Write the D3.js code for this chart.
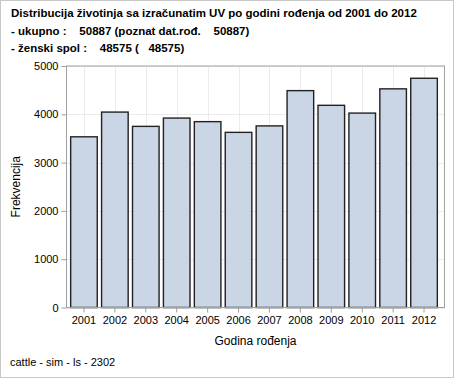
<!DOCTYPE html>
<html>
<head>
<meta charset="utf-8">
<script src="https://cdn.jsdelivr.net/npm/d3@7"></script>
<style>
  body { margin: 0; background: #fff; }
  text { font-family: "Liberation Sans", Arial, sans-serif; }
</style>
</head>
<body>
<div id="chart"></div>
<script>
// data
var years = ["2001", "2002", "2003", "2004", "2005", "2006", "2007", "2008", "2009", "2010", "2011", "2012"];
var counts = [3534, 4046, 3750, 3922, 3848, 3626, 3760, 4490, 4186, 4025, 4527, 4746];
var yTicks = [0, 1000, 2000, 3000, 4000, 5000];
var titleLines = [
  "Distribucija životinja sa izračunatim UV po godini rođenja od 2001 do 2012",
  "- ukupno :    50887 (poznat dat.rođ.    50887)",
  "- ženski spol :    48575 (   48575)"
];
var xLabel = "Godina rođenja";
var yLabel = "Frekvencija";
var footer = "cattle - sim - ls - 2302";

var width = 454, height = 378;
var plot = {left: 66.5, right: 444.5, top: 66, bottom: 307.5};

var svg = d3.select("#chart").append("svg")
    .attr("width", width)
    .attr("height", height);

// outer border
svg.append("rect")
  .attr("x", 0.5).attr("y", 0.5)
  .attr("width", width - 1).attr("height", height - 1)
  .style("fill", "#fff")
  .style("stroke", "#c8c8c8");

// title block
svg.selectAll(".title")
  .data(titleLines)
 .enter()
  .append("text")
  .attr("class", "title")
  .attr("x", 11)
  .attr("y", function(d, i) { return 17 + i * 17.5; })
  .text(function(d) { return d; })
  .style("font-size", "11.5px")
  .style("font-weight", "bold")
  .style("fill", "#000")
  .style("white-space", "pre")
  .attr("xml:space", "preserve");

var xScale = d3.scaleBand()
  .domain(years)
  .range([plot.left + 2, plot.right - 5])
  .paddingInner(0.14)
  .paddingOuter(0.07);

var yScale = d3.scaleLinear()
  .domain([0, 5000])
  .range([plot.bottom, plot.top]);

// gridlines
svg.selectAll(".hgrid")
  .data(yTicks)
 .enter()
  .append("line")
  .attr("class", "hgrid")
  .attr("x1", plot.left).attr("x2", plot.right)
  .attr("y1", function(d) { return Math.round(yScale(d)) + 0.5; })
  .attr("y2", function(d) { return Math.round(yScale(d)) + 0.5; })
  .style("stroke", "#ebebeb");

svg.selectAll(".vgrid")
  .data(years)
 .enter()
  .append("line")
  .attr("class", "vgrid")
  .attr("x1", function(d) { return Math.round(xScale(d) + xScale.bandwidth() / 2) + 0.5; })
  .attr("x2", function(d) { return Math.round(xScale(d) + xScale.bandwidth() / 2) + 0.5; })
  .attr("y1", plot.top).attr("y2", plot.bottom)
  .style("stroke", "#ebebeb");

// bars
svg.selectAll(".bar")
  .data(counts)
 .enter()
  .append("rect")
  .attr("class", "bar")
  .attr("x", function(d, i) { return xScale(years[i]); })
  .attr("y", function(d) { return yScale(d); })
  .attr("width", xScale.bandwidth())
  .attr("height", function(d) { return yScale(0) - yScale(d); })
  .style("fill", "#cad5e5")
  .style("stroke", "#222")
  .style("stroke-width", 1.4);

// plot frame
svg.append("rect")
  .attr("x", plot.left).attr("y", plot.top)
  .attr("width", plot.right - plot.left)
  .attr("height", plot.bottom - plot.top)
  .style("fill", "none")
  .style("stroke", "#a0a0a0");

// axes
var yAxis = d3.axisLeft(yScale)
  .tickValues(yTicks)
  .tickFormat(d3.format("d"))
  .tickSize(5)
  .tickPadding(3);

svg.append("g")
  .attr("class", "y axis")
  .attr("transform", "translate(" + plot.left + ",0)")
  .call(yAxis);

var xAxis = d3.axisBottom(xScale)
  .tickSize(5)
  .tickPadding(4);

svg.append("g")
  .attr("class", "x axis")
  .attr("transform", "translate(0," + plot.bottom + ")")
  .call(xAxis);

svg.selectAll(".axis path").remove();
svg.selectAll(".axis line").style("stroke", "#a0a0a0");
svg.selectAll(".axis text")
  .style("font-size", "11px")
  .style("fill", "#000")
  .style("font-family", "\"Liberation Sans\", Arial, sans-serif");

// axis labels
svg.append("text")
  .attr("text-anchor", "middle")
  .attr("x", (plot.left + plot.right) / 2)
  .attr("y", 345)
  .text(xLabel)
  .style("font-size", "12px")
  .style("fill", "#000");

svg.append("text")
  .attr("text-anchor", "middle")
  .attr("transform", "rotate(-90)")
  .attr("x", -(plot.top + plot.bottom) / 2)
  .attr("y", 20)
  .text(yLabel)
  .style("font-size", "12px")
  .style("fill", "#000");

// footer
svg.append("text")
  .attr("x", 10)
  .attr("y", 366)
  .text(footer)
  .style("font-size", "11px")
  .style("fill", "#000");
</script>
</body>
</html>
